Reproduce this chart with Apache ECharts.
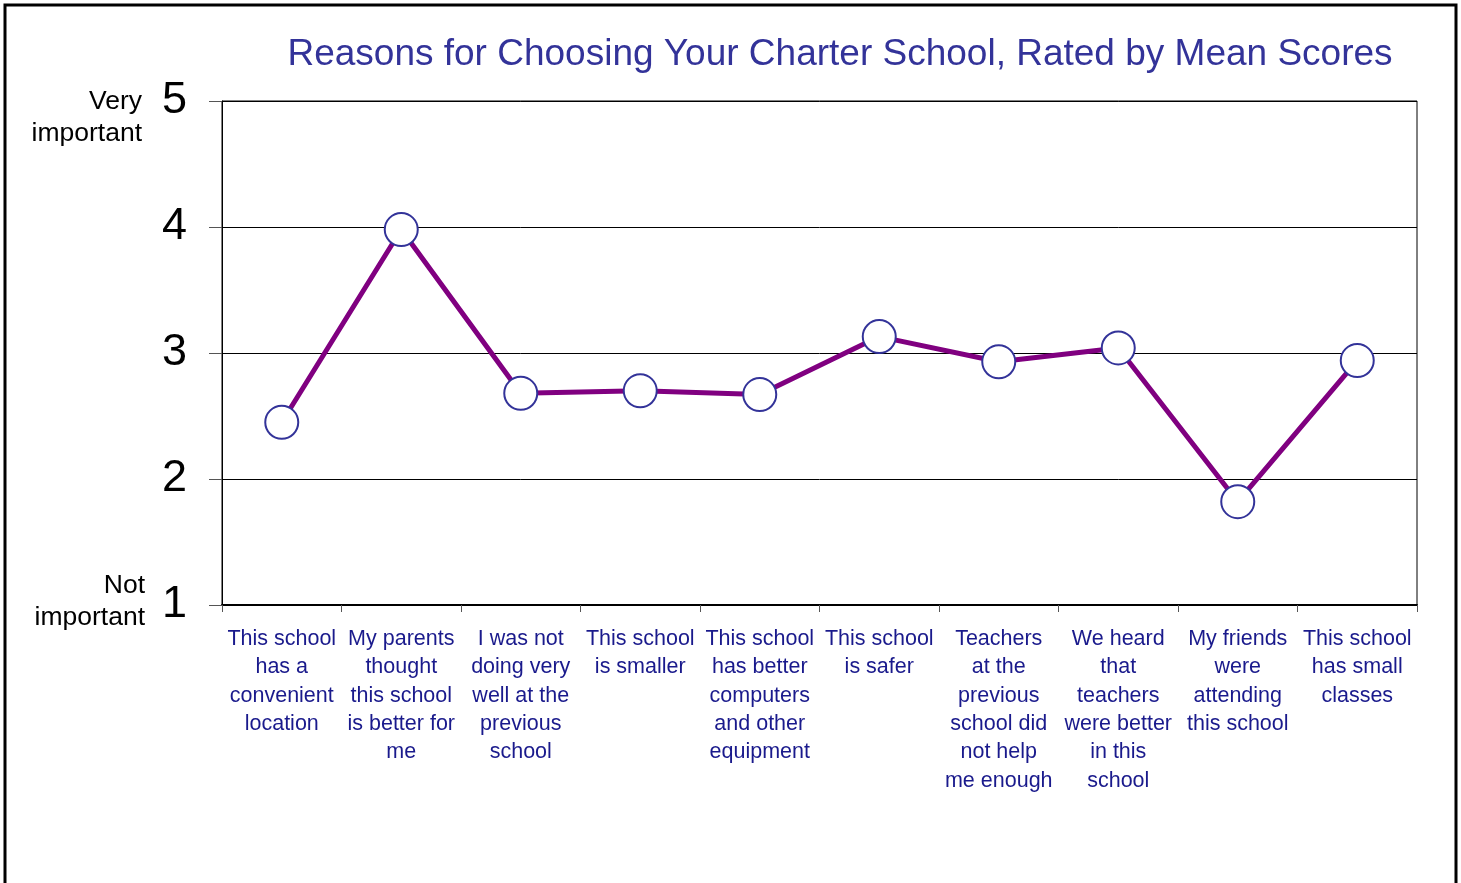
<!DOCTYPE html>
<html>
<head>
<meta charset="utf-8">
<script src="https://cdn.jsdelivr.net/npm/echarts@6/dist/echarts.min.js"></script>
<style>
  html, body { margin: 0; padding: 0; background: #fff; }
  #chart { width: 1461px; height: 883px; }
</style>
</head>
<body>
<div id="chart"></div>
<script>
// reasons (x axis), mean score (y axis 1..5)
var reasons = [
  "This school\nhas a\nconvenient\nlocation",
  "My parents\nthought\nthis school\nis better for\nme",
  "I was not\ndoing very\nwell at the\nprevious\nschool",
  "This school\nis smaller",
  "This school\nhas better\ncomputers\nand other\nequipment",
  "This school\nis safer",
  "Teachers\nat the\nprevious\nschool did\nnot help\nme enough",
  "We heard\nthat\nteachers\nwere better\nin this\nschool",
  "My friends\nwere\nattending\nthis school",
  "This school\nhas small\nclasses"
];
var meanScores = [2.45, 3.98, 2.68, 2.70, 2.67, 3.13, 2.93, 3.04, 1.82, 2.94];
var scoreTicks = [1, 2, 3, 4, 5];

var chart = echarts.init(document.getElementById("chart"));

var option = {
  animation: false,
  backgroundColor: "#fff",
  title: {
    text: "Reasons for Choosing Your Charter School, Rated by Mean Scores",
    left: 835,
    top: 31,
    textAlign: "center",
    textStyle: {
      color: "#333399",
      fontFamily: "Liberation Sans, Arial",
      fontWeight: "normal",
      fontSize: 37
    }
  },
  grid: {
    left: 222,
    right: 44,
    top: 101,
    bottom: 278,
    show: true,
    borderColor: "#000",
    borderWidth: 1,
    backgroundColor: "#fff"
  },
  xAxis: {
    type: "category",
    data: reasons,
    boundaryGap: true,
    axisLine: { lineStyle: { color: "#000", width: 2 } },
    axisTick: { show: true, length: 7, lineStyle: { color: "#555" } },
    axisLabel: {
      interval: 0,
      margin: 20,
      color: "#1a1a8c",
      fontFamily: "Liberation Sans, Arial",
      fontSize: 21.5,
      lineHeight: 28.3,
      align: "center"
    }
  },
  yAxis: {
    type: "value",
    min: 1,
    max: 5,
    interval: 1,
    axisLine: { show: true, lineStyle: { color: "#000", width: 1 } },
    axisTick: { show: true, inside: false, length: 13, lineStyle: { color: "#555" } },
    splitLine: { show: true, lineStyle: { color: "#000", width: 1 } },
    axisLabel: {
      margin: 35,
      color: "#000",
      fontFamily: "Liberation Sans, Arial",
      fontSize: 45,
      padding: [6, 0, 0, 0],
      formatter: function (v) {
        return scoreTicks.indexOf(v) >= 0 ? String(v) : "";
      }
    }
  },
  series: [
    {
      type: "line",
      data: meanScores,
      symbol: "circle",
      symbolSize: 33,
      lineStyle: { color: "#800080", width: 5 },
      itemStyle: { color: "#fff", borderColor: "#333399", borderWidth: 2 },
      z: 3
    }
  ],
  graphic: [
    {
      type: "rect",
      shape: { x: 5, y: 5, width: 1451, height: 890 },
      style: { fill: null, stroke: "#000", lineWidth: 3 },
      silent: true
    },
    {
      type: "text",
      x: 142,
      y: 86,
      style: {
        text: "Very\nimportant",
        align: "right",
        fill: "#000",
        font: "26.5px Liberation Sans, Arial",
        lineHeight: 32
      }
    },
    {
      type: "text",
      x: 145,
      y: 570,
      style: {
        text: "Not\nimportant",
        align: "right",
        fill: "#000",
        font: "26.5px Liberation Sans, Arial",
        lineHeight: 32
      }
    }
  ]
};

chart.setOption(option);
</script>
</body>
</html>
